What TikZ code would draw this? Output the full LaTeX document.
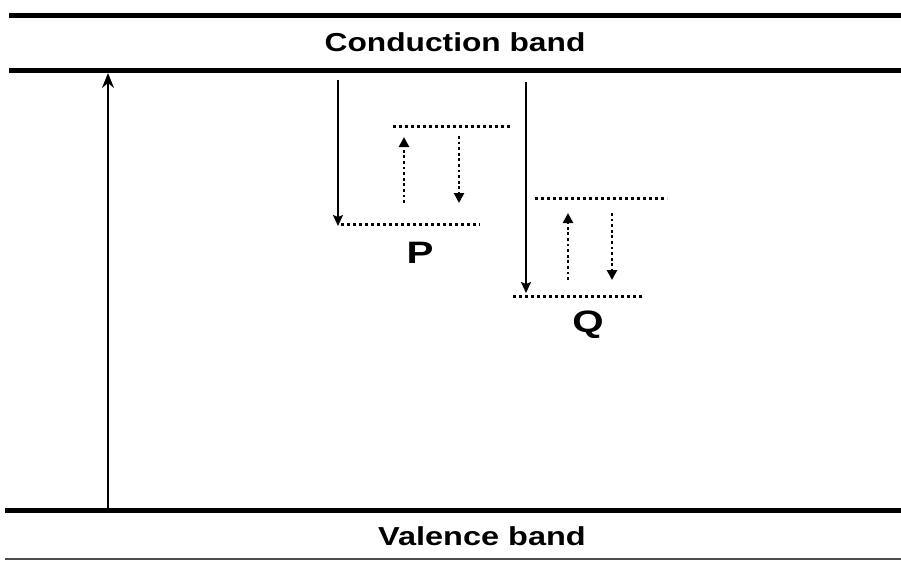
\documentclass[tikz,border=0pt]{standalone}
\usepackage{fontspec}
\setmainfont{Liberation Sans}
\usetikzlibrary{arrows.meta}
\begin{document}
\begin{tikzpicture}[x=1pt,y=-1pt,
  band/.style={line width=5pt},
  solidarrow/.style={line width=1.4pt,-{Stealth[length=11pt,width=10pt,inset=2pt]}},
  dotline/.style={line width=3pt,dash pattern=on 3pt off 3pt},
  dotarrow/.style={line width=2.8pt,dash pattern=on 2.8pt off 2.8pt,-{Triangle[length=10pt,width=10pt]}},
  lbl/.style={inner sep=0pt,anchor=base,font=\bfseries}]
\useasboundingbox (0,0) rectangle (901,563);
% band edges
\coordinate (t1a) at (9,15.5);  \coordinate (t1b) at (901,15.5);
\coordinate (t2a) at (9,70.5);  \coordinate (t2b) at (901,70.5);
\coordinate (b1a) at (5,510);   \coordinate (b1b) at (901,510);
\coordinate (b2a) at (5,559);   \coordinate (b2b) at (901,559);
\draw[band] (t1a) -- (t1b);
\draw[band] (t2a) -- (t2b);
\draw[band] (b1a) -- (b1b);
\draw[line width=1.5pt,black!70] (b2a) -- (b2b);
% labels
\node[lbl] (cb) at (455,51) {\scalebox{1.22}[1]{\fontsize{26}{30}\selectfont Conduction band}};
\node[lbl] (vb) at (482,545) {\scalebox{1.25}[1]{\fontsize{26}{30}\selectfont Valence band}};
\node[lbl] (pl) at (420,263) {\scalebox{1.3}[1]{\fontsize{31}{34}\selectfont P}};
\node[lbl] (ql) at (588,332) {\scalebox{1.3}[1]{\fontsize{31}{34}\selectfont Q}};
% excitation arrow
\coordinate (ex0) at (108,508); \coordinate (ex1) at (108,73);
\draw[line width=1.4pt,-{Stealth[length=15pt,width=12pt,inset=5pt]}] (ex0) -- (ex1);
% level P
\coordinate (pa0) at (338,80);  \coordinate (pa1) at (338,226);
\coordinate (pl0) at (341,224); \coordinate (pl1) at (480,224);
\coordinate (pu0) at (393,126); \coordinate (pu1) at (512,126);
\coordinate (pup0) at (404,203); \coordinate (pup1) at (404,137);
\coordinate (pdn0) at (459,136); \coordinate (pdn1) at (459,203);
\draw[solidarrow] (pa0) -- (pa1);
\draw[dotline] (pl0) -- (pl1);
\draw[dotline] (pu0) -- (pu1);
\draw[dotarrow] (pup0) -- (pup1);
\draw[dotarrow] (pdn0) -- (pdn1);
% level Q
\coordinate (qa0) at (526,82);  \coordinate (qa1) at (526,293);
\coordinate (ql0) at (513,296); \coordinate (ql1) at (644,296);
\coordinate (qu0) at (535,198); \coordinate (qu1) at (667,198);
\coordinate (qup0) at (568,280); \coordinate (qup1) at (568,213);
\coordinate (qdn0) at (612,213); \coordinate (qdn1) at (612,280);
\draw[solidarrow] (qa0) -- (qa1);
\draw[dotline] (ql0) -- (ql1);
\draw[dotline] (qu0) -- (qu1);
\draw[dotarrow] (qup0) -- (qup1);
\draw[dotarrow] (qdn0) -- (qdn1);
\end{tikzpicture}
\end{document}
